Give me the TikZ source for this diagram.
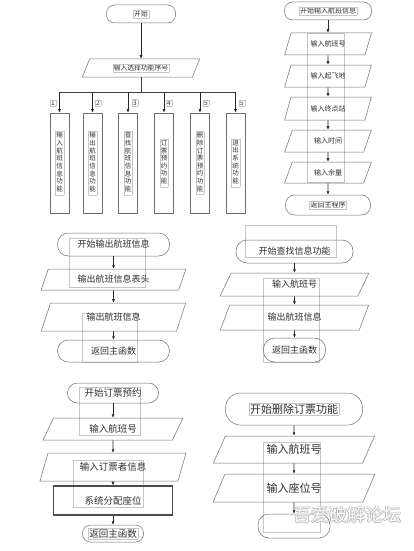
\documentclass[tikz,border=0pt]{standalone}
\usepackage{fontspec}
\setmainfont{Noto Sans CJK SC}
\usetikzlibrary{arrows.meta,shapes.geometric}
\definecolor{txt}{HTML}{2E2E2E}
\definecolor{ln}{HTML}{6E6E6E}
\newcommand\hlt[1]{{\setlength\fboxsep{0.8pt}\setlength\fboxrule{0.3pt}\color{gray!45}\fbox{\color{txt}#1}}}
\newcommand\vt[1]{\hlt{\renewcommand\arraystretch{1}\begin{tabular}{@{}c@{}}#1\end{tabular}}}
\begin{document}
\begin{tikzpicture}[x=1pt,y=-1pt,
  every node/.style={text=txt, inner sep=0pt, align=center},
  term/.style={draw=ln, line width=0.5pt, rounded corners=8pt},
  io/.style={trapezium, trapezium left angle=65, trapezium right angle=115,
             trapezium stretches=true, draw=ln, line width=0.5pt},
  vbox/.style={draw=ln, line width=0.6pt, minimum width=19pt, minimum height=100pt,
               font=\fontsize{6.5}{7.5}\selectfont},
  procbox/.style={draw=gray!60!black, line width=1.1pt},
  arr/.style={draw=black!85, line width=0.6pt, -{Latex[length=3.5pt,width=3pt]}},
  link/.style={draw=black!75, line width=0.6pt},
  frame/.style={draw=gray!45, line width=0.35pt},
  fa/.style={font=\fontsize{6.8}{8}\selectfont},
  fb/.style={font=\fontsize{7}{8}\selectfont},
  fc/.style={font=\fontsize{9}{10}\selectfont},
  fd/.style={font=\fontsize{9.5}{11}\selectfont},
  fe/.style={font=\fontsize{11}{13}\selectfont},
  num/.style={font=\fontsize{6.5}{7}\selectfont},
  wm/.style={font=\fontsize{18}{20}\selectfont}]
\useasboundingbox (0,0) rectangle (413,551);

% ---------- main menu ----------
\node[term, fa, minimum width=69pt, minimum height=18pt] (s0) at (141,14) {\hlt{开始}};
\node[io, fa, minimum width=118pt, minimum height=18pt] (i0) at (141,68) {\hlt{输入选择功能序号}};
\draw[arr] (s0) -- (i0);
\coordinate (j0) at (141,92);
\draw[link] (i0) -- (j0);
\coordinate (b1) at (59.5,92);
\coordinate (b2) at (92.5,92);
\coordinate (b3) at (128,92);
\coordinate (b4) at (164,92);
\coordinate (b5) at (200,92);
\coordinate (b6) at (235.5,92);
\draw[link] (b1) -- (b6);
\node[vbox] (f1) at (59.5,163) {\vt{输\\入\\航\\班\\信\\息\\功\\能}};
\node[vbox] (f2) at (92.5,163) {\vt{输\\出\\航\\班\\信\\息\\功\\能}};
\node[vbox] (f3) at (128,163) {\vt{查\\找\\航\\班\\信\\息\\功\\能}};
\node[vbox] (f4) at (164,163) {\vt{订\\票\\预\\约\\功\\能}};
\node[vbox] (f5) at (200,163) {\vt{删\\除\\订\\票\\预\\约\\功\\能}};
\node[vbox] (f6) at (235.5,163) {\vt{退\\出\\系\\统\\功\\能}};
\foreach \k in {1,...,6} { \draw[arr] (b\k) -- (f\k); }
\node[num] (l1) at (53,103) {\hlt{1}};
\node[num] (l2) at (98,103) {\hlt{2}};
\node[num] (l3) at (135,103) {\hlt{3}};
\node[num] (l4) at (169,103) {\hlt{4}};
\node[num] (l5) at (206,103) {\hlt{5}};
\node[num] (l6) at (242,103) {\hlt{5}};

% ---------- input flight info ----------
\draw[frame] (307,33) rectangle (344,182);
\node[term, fb, minimum width=87pt, minimum height=18pt] (r0) at (328,11) {\hlt{开始输入航班信息}};
\node[io, fb, minimum width=87pt, minimum height=22pt] (r1) at (328,44) {输入航班号};
\node[io, fb, minimum width=87pt, minimum height=22pt] (r2) at (328,76) {输入起飞地};
\node[io, fb, minimum width=87pt, minimum height=23pt] (r3) at (328,108.5) {输入终点站};
\node[io, fb, minimum width=87pt, minimum height=22pt] (r4) at (328,141) {输入时间};
\node[io, fb, minimum width=87pt, minimum height=21pt] (r5) at (328,172.5) {输入余量};
\node[term, fb, minimum width=85pt, minimum height=20pt, rounded corners=9pt] (r6) at (328,205) {\hlt{返回主程序}};
\draw[arr] (r0) -- (r1);
\draw[arr] (r1) -- (r2);
\draw[arr] (r2) -- (r3);
\draw[arr] (r3) -- (r4);
\draw[arr] (r4) -- (r5);
\draw[arr] (r5) -- (r6);

% ---------- output flight info ----------
\draw[frame] (69,238) rectangle (145,287);
\draw[frame] (82,313) rectangle (137,362);
\node[term, fc, minimum width=112pt, minimum height=23pt, rounded corners=11pt] (m0) at (113.5,244.5) {开始输出航班信息};
\node[io, fc, minimum width=145pt, minimum height=21pt] (m1) at (113.5,279.5) {输出航班信息表头};
\node[io, fc, minimum width=145pt, minimum height=28pt] (m2) at (113.5,317) {输出航班信息};
\node[term, fc, minimum width=112pt, minimum height=22pt, rounded corners=11pt] (m3) at (113.5,351) {返回主函数};
\draw[arr] (m0) -- (m1);
\draw[arr] (m1) -- (m2);
\draw[arr] (m2) -- (m3);

% ---------- search ----------
\draw[frame] (245,225) rectangle (336,257);
\draw[frame] (263,278) rectangle (319,362);
\node[term, fc, minimum width=117pt, minimum height=23pt, rounded corners=11pt] (n0) at (294.5,251.5) {开始查找信息功能};
\node[io, fc, minimum width=149pt, minimum height=23pt] (n1) at (294.5,284.5) {输入航班号};
\node[io, fc, minimum width=149pt, minimum height=25pt] (n2) at (294.5,317.5) {输出航班信息};
\node[term, fc, minimum width=62pt, minimum height=24pt, rounded corners=11pt] (n3) at (294.5,350) {返回主函数};
\draw[arr] (n0) -- (n1);
\draw[arr] (n1) -- (n2);
\draw[arr] (n2) -- (n3);

% ---------- booking ----------
\draw[frame] (79,387) rectangle (140,435);
\draw[frame] (73,460) rectangle (143,507);
\node[term, fd, minimum width=91pt, minimum height=20pt, rounded corners=10pt] (p0) at (113,393) {开始订票预约};
\node[io, fd, minimum width=140pt, minimum height=22pt] (p1) at (113,429) {输入航班号};
\node[io, fd, minimum width=147pt, minimum height=28pt] (p2) at (113,467) {输入订票者信息};
\node[procbox, fd, minimum width=119pt, minimum height=29pt] (p3) at (113,500.5) {系统分配座位};
\node[term, fd, minimum width=61pt, minimum height=17pt] (p4) at (113,533.5) {\hlt{返回主函数}};
\draw[arr] (p0) -- (p1);
\draw[arr] (p1) -- (p2);
\draw[arr] (p2) -- (p3);
\draw[arr] (p3) -- (p4);

% ---------- delete booking ----------
\draw[frame] (263,442) rectangle (320,532);
\node[term, fe, minimum width=137pt, minimum height=32pt, rounded corners=15pt] (q0) at (294,409) {\hlt{开始删除订票功能}};
\node[io, fe, minimum width=162pt, minimum height=27pt] (q1) at (294,449.5) {输入航班号};
\node[io, fe, minimum width=162pt, minimum height=28pt] (q2) at (294,488) {输入座位号};
\node[term, minimum width=72pt, minimum height=24pt, rounded corners=11pt] (q3) at (294,526) {};
\draw[arr] (q0) -- (q1);
\draw[arr] (q1) -- (q2);
\draw[arr] (q2) -- (q3);

% ---------- watermark ----------
\foreach \dx/\dy in {-0.6/0,0.6/0,0/-0.6,0/0.6} {
  \node[wm, text=gray!55] at (347.5+\dx,515+\dy) {吾爱破解论坛};
}
\node[wm, text=white] (wmk) at (347.5,515) {吾爱破解论坛};
\end{tikzpicture}
\end{document}
